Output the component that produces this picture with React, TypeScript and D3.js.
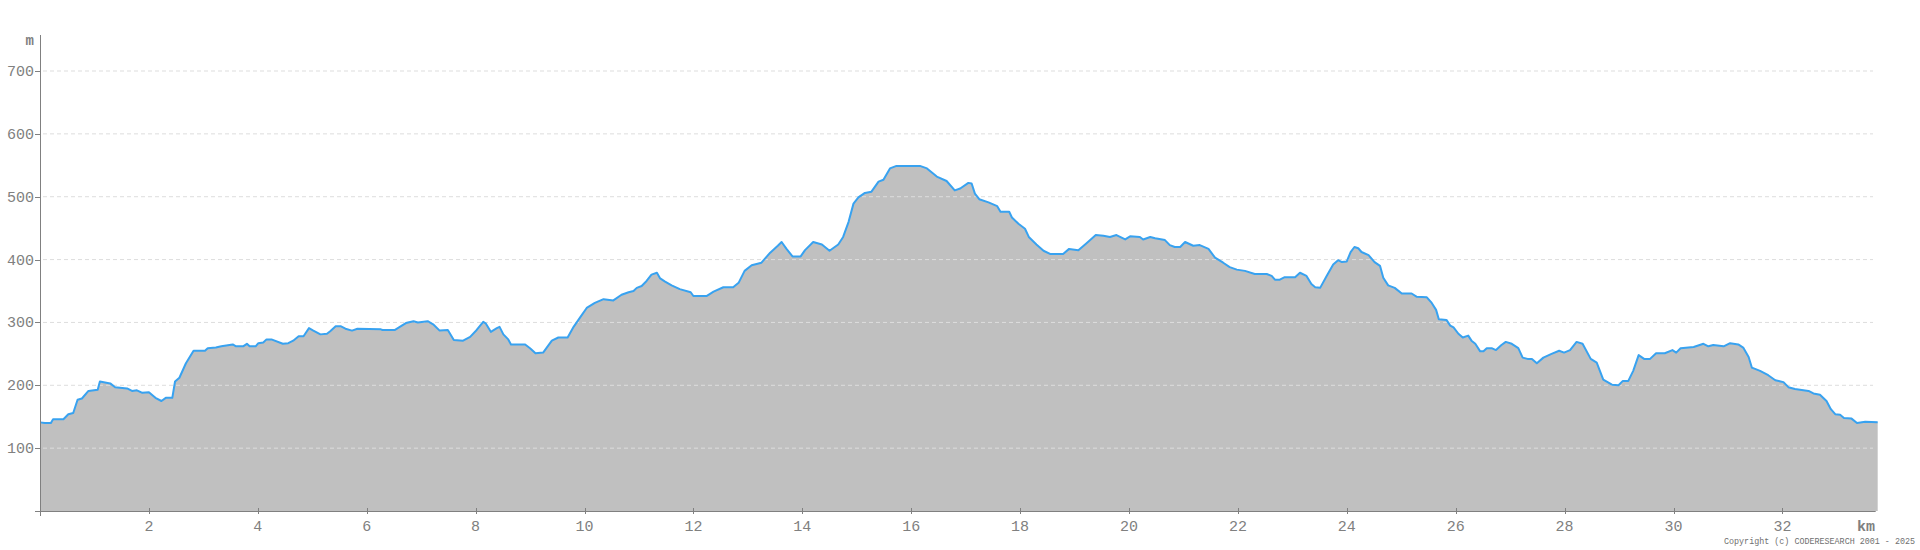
import React from "react";
import * as d3 from "d3";

// distance along route (km) and elevation (m)
const distKm = [
  0, 0.09, 0.2, 0.24, 0.43, 0.52, 0.61, 0.69, 0.77, 0.89, 1.06, 1.1, 1.29, 1.38, 1.6, 1.69, 1.78, 1.88, 2.0,
  2.12, 2.23, 2.31, 2.43, 2.48, 2.56, 2.68, 2.82, 3.03, 3.08, 3.23, 3.33, 3.54, 3.6, 3.73, 3.8, 3.85, 3.96,
  4.01, 4.1, 4.16, 4.25, 4.46, 4.56, 4.65, 4.75, 4.84, 4.94, 5.02, 5.15, 5.27, 5.33, 5.43, 5.52, 5.61, 5.73,
  5.83, 6.26, 6.29, 6.52, 6.63, 6.72, 6.86, 6.94, 7.12, 7.22, 7.34, 7.49, 7.6, 7.77, 7.9, 8.02, 8.14, 8.19,
  8.28, 8.39, 8.44, 8.51, 8.6, 8.65, 8.91, 9.0, 9.1, 9.24, 9.3, 9.4, 9.52, 9.69, 9.8, 9.92, 10.04, 10.19,
  10.35, 10.53, 10.68, 10.81, 10.9, 10.96, 11.05, 11.14, 11.23, 11.33, 11.39, 11.48, 11.6, 11.75, 11.95, 12.0,
  12.24, 12.37, 12.55, 12.73, 12.83, 12.94, 13.07, 13.25, 13.41, 13.55, 13.62, 13.71, 13.82, 13.97, 14.05,
  14.2, 14.36, 14.5, 14.66, 14.75, 14.85, 14.94, 15.03, 15.15, 15.27, 15.4, 15.49, 15.61, 15.73, 16.16,
  16.29, 16.47, 16.65, 16.8, 16.9, 17.05, 17.11, 17.17, 17.25, 17.42, 17.58, 17.64, 17.8, 17.85, 17.97,
  18.09, 18.16, 18.3, 18.43, 18.55, 18.79, 18.9, 19.07, 19.22, 19.39, 19.53, 19.65, 19.77, 19.93, 20.02,
  20.2, 20.26, 20.39, 20.48, 20.66, 20.75, 20.84, 20.94, 21.03, 21.18, 21.3, 21.46, 21.58, 21.73, 21.85,
  21.98, 22.13, 22.31, 22.53, 22.62, 22.68, 22.77, 22.86, 23.05, 23.14, 23.26, 23.35, 23.42, 23.51, 23.63,
  23.75, 23.84, 23.91, 24.0, 24.07, 24.14, 24.21, 24.27, 24.4, 24.51, 24.61, 24.67, 24.76, 24.88, 25.01,
  25.19, 25.28, 25.47, 25.56, 25.64, 25.69, 25.83, 25.9, 25.96, 26.05, 26.13, 26.23, 26.29, 26.36, 26.45,
  26.51, 26.57, 26.66, 26.74, 26.84, 26.92, 27.03, 27.15, 27.23, 27.32, 27.4, 27.49, 27.61, 27.76, 27.9,
  27.99, 28.1, 28.22, 28.33, 28.48, 28.59, 28.71, 28.87, 28.99, 29.07, 29.17, 29.26, 29.36, 29.46, 29.57,
  29.68, 29.84, 29.98, 30.05, 30.13, 30.37, 30.55, 30.64, 30.73, 30.92, 31.04, 31.19, 31.28, 31.38, 31.44,
  31.59, 31.74, 31.87, 32.02, 32.11, 32.23, 32.48, 32.57, 32.69, 32.81, 32.89, 32.97, 33.06, 33.13, 33.27,
  33.37, 33.52, 33.75,
];

const elevM = [
  141, 140, 140, 146, 146, 154, 156, 177, 179, 191, 193, 206, 203, 197, 195, 191, 192, 188, 189,
  180, 175, 180, 180, 206, 212, 235, 255, 255, 259, 260, 262, 265, 262, 262, 266, 262, 262,
  267, 268, 273, 273, 266, 267, 271, 278, 278, 291, 287, 281, 282, 286, 294, 294, 290, 287,
  290, 289, 288, 288, 294, 299, 302, 300, 302, 297, 287, 288, 272, 271, 277, 288, 301, 298,
  285, 291, 293, 281, 273, 265, 265, 259, 251, 252, 259, 271, 276, 276, 293, 308, 323, 331,
  337, 335, 344, 348, 350, 355, 358, 366, 376, 379, 370, 365, 359, 353, 348, 342,
  342, 349, 356, 356, 363, 382, 391, 395, 411, 422, 428, 417, 405, 405, 415,
  428, 424, 414, 424, 436, 460, 489, 499, 506, 508, 524, 527, 545, 549, 549,
  545, 532, 525, 510, 513, 522, 521, 505, 496, 491, 485, 476, 476, 467, 457,
  449, 436, 424, 414, 409, 409, 417, 415, 426, 439, 438, 436, 439, 432, 437,
  436, 432, 436, 434, 431, 423, 420, 420, 428, 422, 423, 417, 403, 395, 388,
  384, 382, 377, 377, 374, 368, 368, 372, 372, 379, 374, 361, 356, 355, 374,
  392, 399, 396, 397, 412, 420, 418, 412, 407, 396, 390, 371, 359, 355, 346,
  346, 341, 340, 331, 320, 305, 304, 295, 292, 282, 276, 279, 271, 266, 254,
  254, 259, 259, 256, 264, 269, 266, 259, 244, 242, 242, 235, 244, 250, 255,
  252, 256, 269, 266, 242, 236, 209, 201, 200, 207, 207, 223, 248, 242, 242,
  251, 251, 256, 252, 259, 261, 266, 262, 264, 262, 267, 265, 260, 245, 228,
  223, 216, 208, 205, 197, 194, 191, 187, 185, 175, 162, 154, 153, 148, 147,
  140, 142, 141,
];

const xTicks = [2, 4, 6, 8, 10, 12, 14, 16, 18, 20, 22, 24, 26, 28, 30, 32];
const yTicks = [100, 200, 300, 400, 500, 600, 700];

const W = 1920;
const H = 550;
const axisColor = "#808080";
const font = "'Liberation Mono', 'DejaVu Sans Mono', monospace";

export default function App() {
  const pxPerKm = 54.45;
  const x = d3.scaleLinear().domain([0, 1]).range([40, 40 + pxPerKm]);
  const y = d3.scaleLinear().domain([0, 700]).range([511, 71]);

  const pts = distKm.map((d, i) => ({ d, e: elevM[i] }));

  const area = d3
    .area<{ d: number; e: number }>()
    .x((p) => x(p.d))
    .y0(y(0))
    .y1((p) => y(p.e));
  const line = d3
    .line<{ d: number; e: number }>()
    .x((p) => x(p.d))
    .y((p) => y(p.e));

  const xEnd = x(distKm[distKm.length - 1]);

  return (
    <svg width={W} height={H} style={{ position: "absolute", left: 0, top: 0, background: "#fff" }}>
      <path d={area(pts) || ""} fill="#c0c0c0" />

      {/* grid */}
      {yTicks.map((t) => (
        <line key={t} x1={43} x2={1873} y1={y(t)} y2={y(t)} stroke="#dddddd" strokeWidth={1} strokeDasharray="4 3" />
      ))}

      <path d={line(pts) || ""} fill="none" stroke="#38a2f0" strokeWidth={2} strokeLinejoin="round" />

      {/* axes */}
      <line x1={40.5} x2={40.5} y1={35} y2={516} stroke={axisColor} strokeWidth={1} />
      <line x1={35} x2={xEnd - 2} y1={511.5} y2={511.5} stroke={axisColor} strokeWidth={1} />

      {yTicks.map((t) => (
        <g key={t}>
          <line x1={35} x2={40} y1={Math.round(y(t)) + 0.5} y2={Math.round(y(t)) + 0.5} stroke={axisColor} />
          <text x={34} y={y(t) + 5} textAnchor="end" fontFamily={font} fontSize={15} fill={axisColor}>
            {t}
          </text>
        </g>
      ))}
      <text x={34} y={45} textAnchor="end" fontFamily={font} fontSize={14} fontWeight="bold" fill={axisColor}>
        m
      </text>

      {xTicks.map((t) => (
        <g key={t}>
          <line x1={Math.round(x(t)) + 0.5} x2={Math.round(x(t)) + 0.5} y1={508} y2={514} stroke={axisColor} />
          <text x={x(t)} y={531} textAnchor="middle" fontFamily={font} fontSize={15} fill={axisColor}>
            {t}
          </text>
        </g>
      ))}
      <text x={1866} y={531} textAnchor="middle" fontFamily={font} fontSize={15} fontWeight="bold" fill={axisColor}>
        km
      </text>

      <text x={1915} y={543.5} textAnchor="end" fontFamily={font} fontSize={8.4} fill="#707070">
        Copyright (c) CODERESEARCH 2001 - 2025
      </text>
    </svg>
  );
}
